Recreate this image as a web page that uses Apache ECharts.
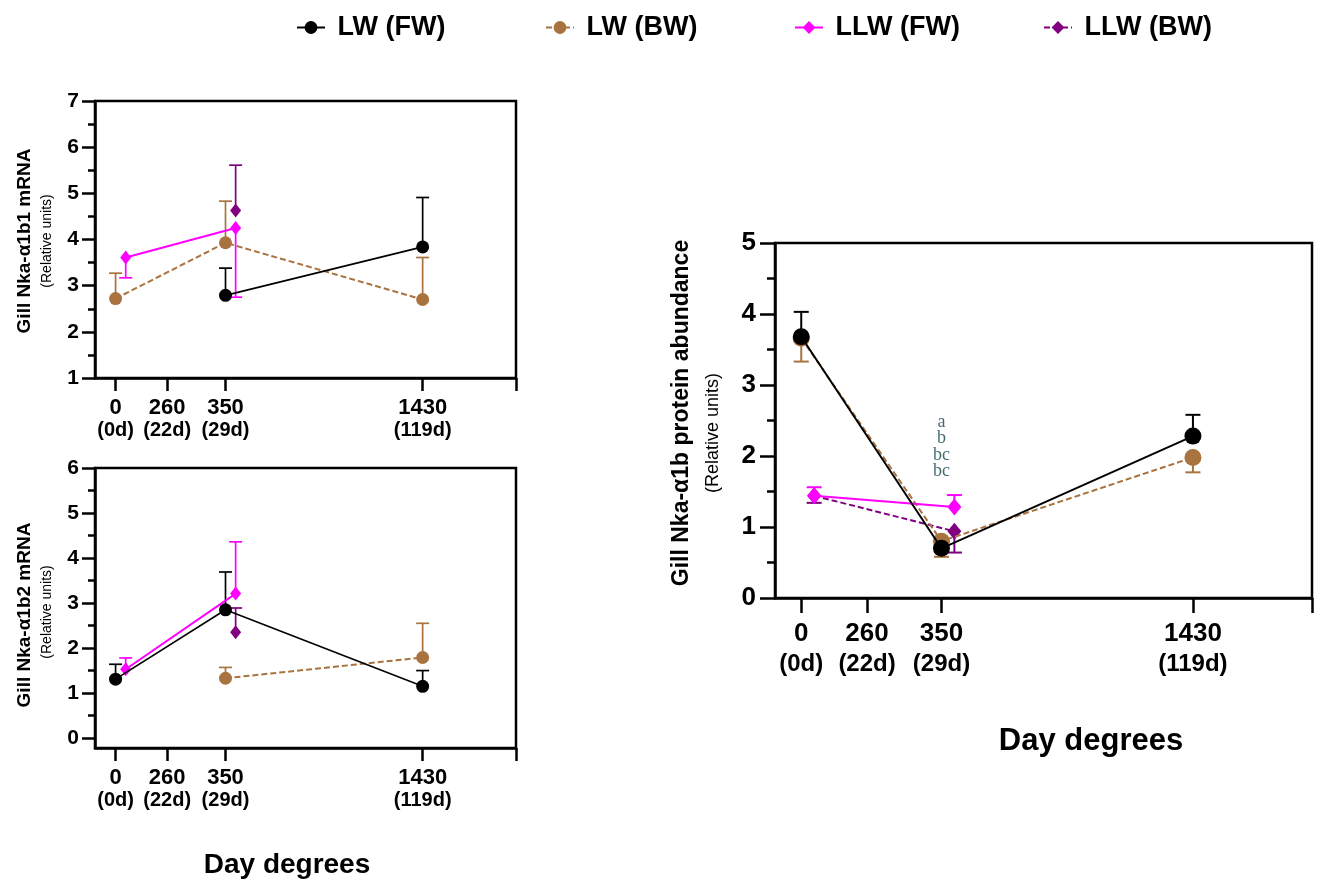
<!DOCTYPE html>
<html><head><meta charset="utf-8">
<script src="https://cdn.jsdelivr.net/npm/echarts@6/dist/echarts.min.js"></script>
<style>html,body{margin:0;padding:0;background:#fff}#c{width:1322px;height:882px}</style>
</head><body><div id="c"></div>
<script>
// ---------- DATA ----------
const timepoints = ['0', '260', '350', '1430'];
const dayLabels = ['(0d)', '(22d)', '(29d)', '(119d)'];
const seriesNames = ['LW (FW)', 'LW (BW)', 'LLW (FW)', 'LLW (BW)'];

// Panel 1: Gill Nka-α1b1 mRNA (mean, error-bar end)
const b1_LW_FW = [null, null, 2.79, 3.84];
const b1_LW_FW_err = [null, null, 3.38, 4.91];
const b1_LW_BW = [2.72, null, 3.93, 2.70];
const b1_LW_BW_err = [3.27, null, 4.83, 3.61];
const b1_LLW_FW = [3.61, null, 4.25, null];
const b1_LLW_FW_err = [3.17, null, 2.75, null];
const b1_LLW_BW = [null, null, 4.63, null];
const b1_LLW_BW_err = [null, null, 5.61, null];

// Panel 2: Gill Nka-α1b2 mRNA
const b2_LW_FW = [1.31, null, 2.85, 1.15];
const b2_LW_FW_err = [1.64, null, 3.69, 1.50];
const b2_LW_BW = [null, null, 1.33, 1.79];
const b2_LW_BW_err = [null, null, 1.57, 2.55];
const b2_LLW_FW = [1.53, null, 3.21, null];
const b2_LLW_FW_err = [1.78, null, 4.36, null];
const b2_LLW_BW = [null, null, 2.35, null];
const b2_LLW_BW_err = [null, null, 2.89, null];

// Panel 3: Gill Nka-α1b protein abundance
const pr_LW_FW = [3.68, null, 0.70, 2.28];
const pr_LW_FW_err = [4.03, null, null, 2.58];
const pr_LW_BW = [3.66, null, 0.80, 1.98];
const pr_LW_BW_err = [3.33, null, 0.58, 1.77];
const pr_LLW_FW = [1.44, null, 1.28, null];
const pr_LLW_FW_err = [1.56, null, 1.45, null];
const pr_LLW_BW = [1.44, null, 0.94, null];
const pr_LLW_BW_err = [1.34, null, 0.64, null];

const sigLetters = ['a', 'b', 'bc', 'bc'];

const yTicks1 = [1, 2, 3, 4, 5, 6, 7];
const yTicks2 = [0, 1, 2, 3, 4, 5, 6];
const yTicks3 = [0, 1, 2, 3, 4, 5];

// ---------- LAYOUT ----------
const tickPos = [0, 0.168, 0.358, 1];      // axis position of each time point
const llwOffset = 0.033;                    // LLW points drawn slightly right
const xMin = -0.067, xMax = 1.304;
const annotY = 2.13;
const FONT = '"Liberation Sans", Arial, Helvetica, sans-serif';
const colors = ['#000000', '#a8733f', '#ff00ff', '#800080'];
const lineTypes = ['solid', [6, 3], 'solid', [6, 3]];
const zOrder = [6, 4, 5, 3];

const panels = [
  { vals: [b1_LW_FW, b1_LW_BW, b1_LLW_FW, b1_LLW_BW],
    errs: [b1_LW_FW_err, b1_LW_BW_err, b1_LLW_FW_err, b1_LLW_BW_err],
    ticks: yTicks1, yMin: 1, yMax: 7,
    grid: { left: 95, top: 101, width: 421, height: 277 },
    big: false },
  { vals: [b2_LW_FW, b2_LW_BW, b2_LLW_FW, b2_LLW_BW],
    errs: [b2_LW_FW_err, b2_LW_BW_err, b2_LLW_FW_err, b2_LLW_BW_err],
    ticks: yTicks2, yMin: -0.22, yMax: 6,
    grid: { left: 95, top: 468, width: 421, height: 280 },
    big: false },
  { vals: [pr_LW_FW, pr_LW_BW, pr_LLW_FW, pr_LLW_BW],
    errs: [pr_LW_FW_err, pr_LW_BW_err, pr_LLW_FW_err, pr_LLW_BW_err],
    ticks: yTicks3, yMin: 0, yMax: 5,
    grid: { left: 775, top: 243, width: 537, height: 355 },
    big: true }
];

function labelFor(v) {
  for (let i = 0; i < tickPos.length; i++) {
    if (Math.abs(tickPos[i] - v) < 1e-6) return '{a|' + timepoints[i] + '}\n{b|' + dayLabels[i] + '}';
  }
  return '';
}

function errRender(capW, color, lw) {
  return function (params, api) {
    const x = api.value(0), v = api.value(1), e = api.value(2);
    const p1 = api.coord([x, v]), p2 = api.coord([x, e]);
    return { type: 'group', children: [
      { type: 'line', shape: { x1: p1[0], y1: p1[1], x2: p2[0], y2: p2[1] }, style: { stroke: color, lineWidth: lw } },
      { type: 'line', shape: { x1: p2[0] - capW / 2, y1: p2[1], x2: p2[0] + capW / 2, y2: p2[1] }, style: { stroke: color, lineWidth: lw } }
    ]};
  };
}

const grids = [], xAxes = [], yAxes = [], series = [];
panels.forEach((p, c) => {
  grids.push(Object.assign({ show: true, borderColor: '#000', borderWidth: 2.5, backgroundColor: 'transparent' }, p.grid));
  const big = p.big;
  xAxes.push({
    type: 'value', gridIndex: c, min: xMin, max: xMax,
    splitLine: { show: false },
    axisLine: { onZero: false, lineStyle: { color: '#000', width: 2.5 } },
    axisTick: { customValues: tickPos.concat([xMax]), length: big ? 15 : 13, lineStyle: { color: '#000', width: 2.5 } },
    axisLabel: {
      customValues: tickPos, formatter: labelFor, margin: big ? 21 : 18, color: '#000',
      rich: {
        a: { fontFamily: FONT, fontWeight: 'bold', fontSize: big ? 26 : 22, lineHeight: big ? 30 : 23, color: '#000' },
        b: { fontFamily: FONT, fontWeight: 'bold', fontSize: big ? 24 : 20, lineHeight: big ? 30 : 23, color: '#000' }
      }
    }
  });
  yAxes.push({
    type: 'value', gridIndex: c, position: 'left', min: p.yMin, max: p.yMax,
    splitLine: { show: false },
    axisLine: { onZero: false, lineStyle: { color: '#000', width: 2.5 } },
    axisTick: { customValues: p.ticks, length: big ? 15 : 13, lineStyle: { color: '#000', width: 2.5 } },
    axisLabel: { customValues: p.ticks, margin: big ? 19 : 16, fontFamily: FONT, fontWeight: 'bold', fontSize: big ? 26 : 21, color: '#000' }
  });
  const minor = p.ticks.slice(0, -1).map(t => t + 0.5);
  yAxes.push({
    type: 'value', gridIndex: c, position: 'left', min: p.yMin, max: p.yMax,
    splitLine: { show: false },
    axisLine: { show: false, onZero: false },
    axisLabel: { show: false },
    axisTick: { customValues: minor, length: big ? 8 : 7, lineStyle: { color: '#000', width: 2.5 } }
  });
  for (let s = 0; s < 4; s++) {
    const off = s >= 2 ? llwOffset : 0;
    const pts = [], bars = [];
    p.vals[s].forEach((v, i) => {
      if (v === null) return;
      pts.push([tickPos[i] + off, v]);
      if (p.errs[s][i] !== null) bars.push([tickPos[i] + off, v, p.errs[s][i]]);
    });
    const isCircle = s < 2;
    series.push({
      type: 'line', name: seriesNames[s], xAxisIndex: c, yAxisIndex: 2 * c,
      data: pts, z: zOrder[s] + 2,
      symbol: isCircle ? 'circle' : 'diamond',
      symbolSize: isCircle ? (big ? 17 : 13) : (big ? [14, 17] : [11, 14]),
      showSymbol: true,
      lineStyle: { color: colors[s], width: s === 0 ? (big ? 2 : 1.6) : 2, type: lineTypes[s] },
      itemStyle: { color: colors[s], borderWidth: 0 },
      emphasis: { disabled: true }, silent: true
    });
    series.push({
      type: 'custom', name: seriesNames[s] + ' err', xAxisIndex: c, yAxisIndex: 2 * c,
      data: bars, z: 1, silent: true,
      renderItem: errRender(big ? 15 : 13, colors[s], big ? 2 : 1.7)
    });
  }
});

series.push({
  type: 'scatter', xAxisIndex: 2, yAxisIndex: 4, silent: true, z: 10,
  data: [[tickPos[2], annotY]], symbolSize: 1, itemStyle: { color: 'transparent' },
  label: { show: true, position: 'inside', formatter: sigLetters.join('\n'),
    fontFamily: '"Liberation Serif", "DejaVu Serif", serif', fontSize: 18, lineHeight: 16.5, color: '#0f3f48' }
});

const legendLefts = [291, 540, 789, 1038];
const legends = seriesNames.map((n, i) => ({
  data: [n], left: legendLefts[i], top: 9, itemWidth: 28, itemHeight: 16, itemGap: 0,
  selectedMode: false,
  formatter: name => ' ' + name,
  textStyle: { fontFamily: FONT, fontWeight: 'bold', fontSize: 27, color: '#000' }
}));

const txt = (x, y, text, size, bold, rot) => ({
  type: 'text', x: x, y: y, rotation: rot || 0, silent: true,
  style: { text: text, fontFamily: FONT, fontWeight: bold ? 'bold' : 'normal', fontSize: size, fill: '#000', align: 'center', verticalAlign: 'middle' }
});

const chart = echarts.init(document.getElementById('c'), null, { renderer: 'canvas' });
chart.setOption({
  animation: false,
  backgroundColor: '#fff',
  legend: legends,
  grid: grids, xAxis: xAxes, yAxis: yAxes, series: series,
  graphic: [
    txt(25, 241, 'Gill Nka-α1b1 mRNA', 19, true, Math.PI / 2),
    txt(47, 241, '(Relative units)', 14, false, Math.PI / 2),
    txt(25, 615, 'Gill Nka-α1b2 mRNA', 19, true, Math.PI / 2),
    txt(47, 612, '(Relative units)', 14, false, Math.PI / 2),
    txt(682, 413, 'Gill Nka-α1b protein abundance', 23, true, Math.PI / 2),
    txt(713, 433, '(Relative units)', 18, false, Math.PI / 2),
    txt(287, 865, 'Day degrees', 28, true),
    txt(1091, 741, 'Day degrees', 31, true)
  ]
});
</script></body></html>
